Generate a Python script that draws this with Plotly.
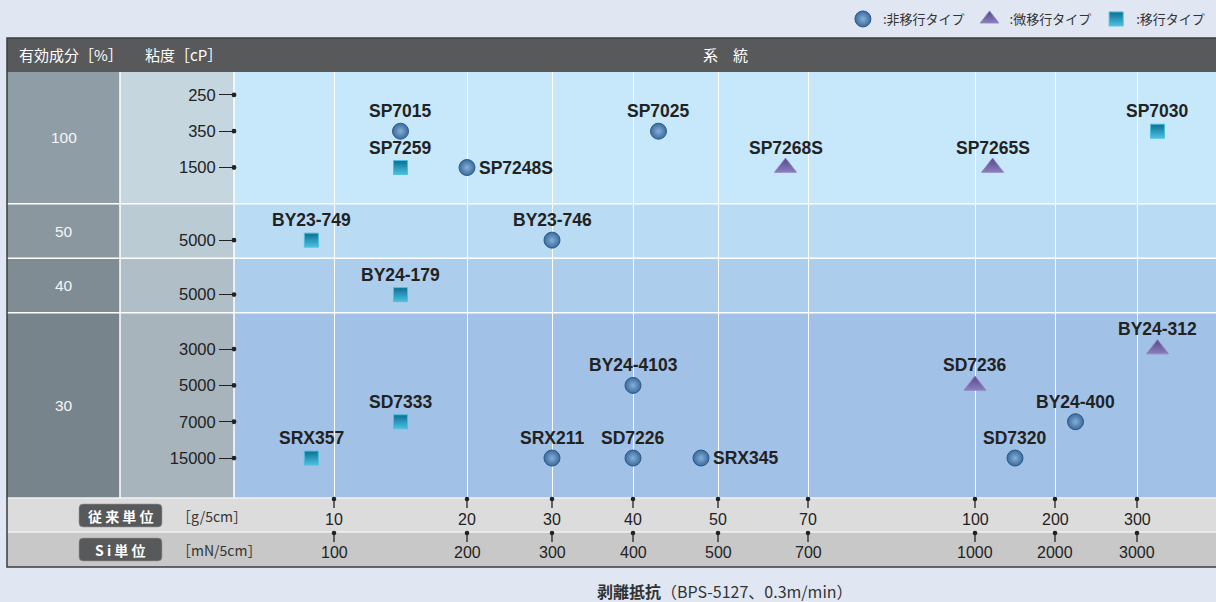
import numpy as np
import plotly.graph_objects as go

W, H = 1216, 602

# ---------------- data ----------------
PRODUCTS = ["SP7015", "SP7259", "SP7248S", "SP7025", "SP7268S", "SP7265S", "SP7030",
            "BY23-749", "BY23-746", "BY24-179", "BY24-312", "BY24-4103", "SD7236",
            "SD7333", "BY24-400", "SRX357", "SRX211", "SD7226", "SRX345", "SD7320"]
TYPES = ["non", "mig", "non", "non", "slight", "slight", "mig",
         "mig", "non", "mig", "slight", "non", "slight",
         "mig", "non", "mig", "non", "non", "non", "non"]
PEEL_G = [15, 15, 20, 43, 65, 122, 325,
          8.3, 30, 15, 325, 40, 100,
          15, 225, 8.3, 30, 40, 48, 150]          # g/5cm
ROW = [1, 2, 2, 1, 2, 2, 1,
       3, 3, 4, 5, 6, 6,
       7, 7, 8, 8, 8, 8, 8]
LABEL_RIGHT = ["SP7248S", "SRX345"]

VISCOSITY = ["250", "350", "1500", "5000", "5000", "3000", "5000", "7000", "15000"]
CONTENT = ["100", "50", "40", "30"]

TICK_G = [10, 20, 30, 40, 50, 70, 100, 200, 300]
TICK_MN = [100, 200, 300, 400, 500, 700, 1000, 2000, 3000]

TYPE_NAMES = {"non": ":非移行タイプ", "slight": ":微移行タイプ", "mig": ":移行タイプ"}

# ---------------- scale / layout definitions ----------------
TICK_POS = [100, 233, 318, 399, 484, 574, 741, 821, 903]   # position of ticks along x axis (0..982)
ROW_POS = [0, 1, 2, 4, 5.5, 7, 8, 9, 10]                    # slot positions on y axis
GROUP_BOUNDS = [-0.63, 3, 4.5, 6, 11.1]

def xp(px):
    return px / W

def yp(py):
    return (H - py) / H

def peel_to_pos(v):
    g = np.array(TICK_G, float)
    p = np.array(TICK_POS, float)
    if v < g[0]:
        return p[0] + (v - g[0]) * (p[1] - p[0]) / (g[1] - g[0])
    if v > g[-1]:
        return p[-1] + (v - g[-1]) * (p[-1] - p[-2]) / (g[-1] - g[-2])
    return float(np.interp(v, g, p))

X_LEFT, X_C1, X_C2 = 7, 120, 234
Y_HEAD_T, Y_HEAD_B, Y_PLOT_B, Y_S1_B, Y_S2_B = 38, 72, 498, 532, 567

COL1 = ["#8f9ea6", "#8a979e", "#7f8c93", "#77848b"]
COL2 = ["#c5d6df", "#bacbd4", "#b0bfc7", "#a7b4bc"]
PLOTBG = ["#c7e8fa", "#b9dbf3", "#accdeb", "#a1c1e6"]

MARKERS = {
    "non": dict(symbol="circle", size=16, color="#3a6b9e",
                gradient=dict(type="radial", color="#86afd7"),
                line=dict(color="#2c5a8a", width=1)),
    "slight": dict(symbol="triangle-up", size=19, color="#56488a",
                   gradient=dict(type="vertical", color="#8a7dbd"),
                   line=dict(color="#9185c0", width=1)),
    "mig": dict(symbol="square", size=14, color="#0b6f91",
                gradient=dict(type="vertical", color="#4cc0e2"),
                line=dict(color="#4fbfe0", width=1)),
}

fig = go.Figure()

xs = [peel_to_pos(v) for v in PEEL_G]
ys = [ROW_POS[r] for r in ROW]

for t in ["non", "slight", "mig"]:
    idx = [i for i, tt in enumerate(TYPES) if tt == t]
    fig.add_trace(go.Scatter(
        x=[xs[i] for i in idx], y=[ys[i] for i in idx],
        mode="markers", name=TYPE_NAMES[t], marker=MARKERS[t],
        cliponaxis=False, hoverinfo="text",
        text=[PRODUCTS[i] for i in idx],
    ))

annotations = []
label_font = dict(family="Liberation Sans, Arial", size=17.5, color="#222222")
for i, name in enumerate(PRODUCTS):
    if name in LABEL_RIGHT:
        annotations.append(dict(x=xs[i], y=ys[i], xref="x", yref="y", text=f"<b>{name}</b>",
                                showarrow=False, xanchor="left", yanchor="middle",
                                xshift=10, font=label_font))
    else:
        annotations.append(dict(x=xs[i], y=ys[i], xref="x", yref="y", text=f"<b>{name}</b>",
                                showarrow=False, xanchor="center", yanchor="middle",
                                yshift=20, font=label_font))

shapes = []
# header bar
shapes.append(dict(type="rect", xref="paper", yref="paper", x0=xp(X_LEFT), x1=1,
                   y0=yp(Y_HEAD_B), y1=yp(Y_HEAD_T), fillcolor="#58595b", line_width=0, layer="below"))
# group backgrounds
for g in range(4):
    y0, y1 = GROUP_BOUNDS[g], GROUP_BOUNDS[g + 1]
    for (a, b, c) in [(X_LEFT, X_C1, COL1[g]), (X_C1, X_C2, COL2[g]), (X_C2, W, PLOTBG[g])]:
        shapes.append(dict(type="rect", xref="paper", yref="y", x0=xp(a), x1=xp(b),
                           y0=y0, y1=y1, fillcolor=c, line_width=0, layer="below"))
# white separators
for b in GROUP_BOUNDS[1:-1]:
    shapes.append(dict(type="line", xref="paper", yref="y", x0=xp(X_LEFT), x1=1, y0=b, y1=b,
                       line=dict(color="white", width=1.5), layer="below"))
for xx in [X_C1, X_C2]:
    shapes.append(dict(type="line", xref="paper", yref="paper", x0=xp(xx), x1=xp(xx),
                       y0=yp(Y_HEAD_B), y1=yp(Y_PLOT_B), line=dict(color="white", width=1.5), layer="below"))
# bottom strips
shapes.append(dict(type="rect", xref="paper", yref="paper", x0=xp(X_LEFT), x1=1,
                   y0=yp(Y_S1_B), y1=yp(Y_PLOT_B), fillcolor="#dcdcdc", line_width=0, layer="below"))
shapes.append(dict(type="rect", xref="paper", yref="paper", x0=xp(X_LEFT), x1=1,
                   y0=yp(Y_S2_B), y1=yp(Y_S1_B), fillcolor="#c8c8c8", line_width=0, layer="below"))
for yy in [Y_PLOT_B, Y_S1_B]:
    shapes.append(dict(type="line", xref="paper", yref="paper", x0=xp(X_LEFT), x1=1,
                       y0=yp(yy), y1=yp(yy), line=dict(color="#f2f2f2", width=1.5), layer="below"))


def rounded_rect(x0, y0, x1, y1, r):
    X0, X1 = xp(x0), xp(x1)
    Y0, Y1 = yp(y0), yp(y1)
    rx, ry = r / W, r / H
    return (f"M{X0+rx},{Y0} L{X1-rx},{Y0} Q{X1},{Y0} {X1},{Y0-ry} "
            f"L{X1},{Y1+ry} Q{X1},{Y1} {X1-rx},{Y1} L{X0+rx},{Y1} Q{X0},{Y1} {X0},{Y1+ry} "
            f"L{X0},{Y0-ry} Q{X0},{Y0} {X0+rx},{Y0} Z")


for top in [504, 538]:
    shapes.append(dict(type="path", xref="paper", yref="paper",
                       path=rounded_rect(79, top, 162, top + 23, 4),
                       fillcolor="#58595b", line=dict(color="#9a9a9a", width=0.6), layer="below"))

# strip tick marks
for pos in TICK_POS:
    for top in [Y_PLOT_B + 1, Y_S1_B + 1]:
        shapes.append(dict(type="line", xref="x", yref="paper", x0=pos, x1=pos,
                           y0=yp(top), y1=yp(top + 9), line=dict(color="#222", width=1.3), layer="above"))
        shapes.append(dict(type="circle", xref="x", yref="paper", xsizemode="pixel", ysizemode="pixel",
                           xanchor=pos, yanchor=yp(top), x0=-2.3, x1=2.3, y0=-2.3, y1=2.3,
                           fillcolor="#222", line_width=0, layer="above"))
# y tick dots
for rp in ROW_POS:
    shapes.append(dict(type="circle", xref="paper", yref="y", xsizemode="pixel", ysizemode="pixel",
                       xanchor=xp(X_C2), yanchor=rp, x0=-2.4, x1=2.4, y0=-2.4, y1=2.4,
                       fillcolor="#222", line_width=0, layer="above"))
# frame
shapes.append(dict(type="rect", xref="paper", yref="paper", x0=xp(X_LEFT), x1=1.002,
                   y0=yp(Y_S2_B), y1=yp(Y_HEAD_T), line=dict(color="#3c3c3c", width=1.5),
                   fillcolor="rgba(0,0,0,0)", layer="above"))

jp = "Noto Sans CJK JP"
white_font = dict(family=jp, size=15, color="white")


def ann(x, y, text, font, xanchor="center", xref="paper", yref="paper"):
    return dict(x=x, y=y, xref=xref, yref=yref, text=text, showarrow=False,
                xanchor=xanchor, yanchor="middle", font=font)


annotations += [
    ann(xp(17), yp(55), "有効成分［%］", white_font, "left"),
    ann(xp(143), yp(55), "粘度［cP］", white_font, "left"),
    ann(xp(725), yp(55), "系　統", white_font),
]
for g, c in enumerate(CONTENT):
    annotations.append(ann(xp((X_LEFT + X_C1) / 2), (GROUP_BOUNDS[g] + GROUP_BOUNDS[g + 1]) / 2, c,
                           dict(family="Liberation Sans, Arial", size=15.5, color="#f4f6f8"), yref="y"))
# strip labels
annotations += [
    ann(xp(120.5), yp(515.5), "<b>従 来 単 位</b>", dict(family=jp, size=14, color="white")),
    ann(xp(120.5), yp(549.5), "<b>S i 単 位</b>", dict(family=jp, size=14, color="white")),
    ann(xp(175), yp(516), "［g/5cm］", dict(family=jp, size=14, color="#333"), "left"),
    ann(xp(175), yp(550), "［mN/5cm］", dict(family=jp, size=14, color="#333"), "left"),
]
num_font = dict(family="Liberation Sans, Arial", size=16, color="#222")
for pos, g, m in zip(TICK_POS, TICK_G, TICK_MN):
    annotations.append(ann(pos, yp(519), str(g), num_font, xref="x"))
    annotations.append(ann(pos, yp(552), str(m), num_font, xref="x"))
# axis title
annotations.append(ann(xp(725), yp(591), "<b>剥離抵抗</b>（BPS-5127、0.3m/min）",
                       dict(family=jp, size=16, color="#333")))

fig.update_layout(
    width=W, height=H,
    margin=dict(l=0, r=0, t=0, b=0),
    paper_bgcolor="#e0e7f3",
    plot_bgcolor="rgba(0,0,0,0)",
    showlegend=True,
    legend=dict(orientation="h", x=0.995, xanchor="right", y=1 - 4 / H, yanchor="top",
                bgcolor="rgba(0,0,0,0)", font=dict(family=jp, size=13, color="#333"),
                itemwidth=30, traceorder="normal"),
    xaxis=dict(domain=[xp(X_C2), 1], range=[0, W - X_C2], tickvals=TICK_POS, showticklabels=False,
               showgrid=True, gridcolor="white", gridwidth=1.3, zeroline=False, showline=False,
               ticks="", fixedrange=True),
    yaxis=dict(domain=[yp(Y_PLOT_B), yp(Y_HEAD_B)], range=[GROUP_BOUNDS[-1], GROUP_BOUNDS[0]],
               tickvals=ROW_POS, ticktext=VISCOSITY, ticks="outside", ticklen=14, tickwidth=1.4,
               tickcolor="#222", showgrid=False, zeroline=False, showline=False,
               tickfont=dict(family="Liberation Sans, Arial", size=16.5, color="#222"), fixedrange=True),
    shapes=shapes,
    annotations=annotations,
)

fig.write_html("out.html", config={"displayModeBar": False},
               post_script="document.body.style.margin='0px';document.body.style.overflow='hidden';")
